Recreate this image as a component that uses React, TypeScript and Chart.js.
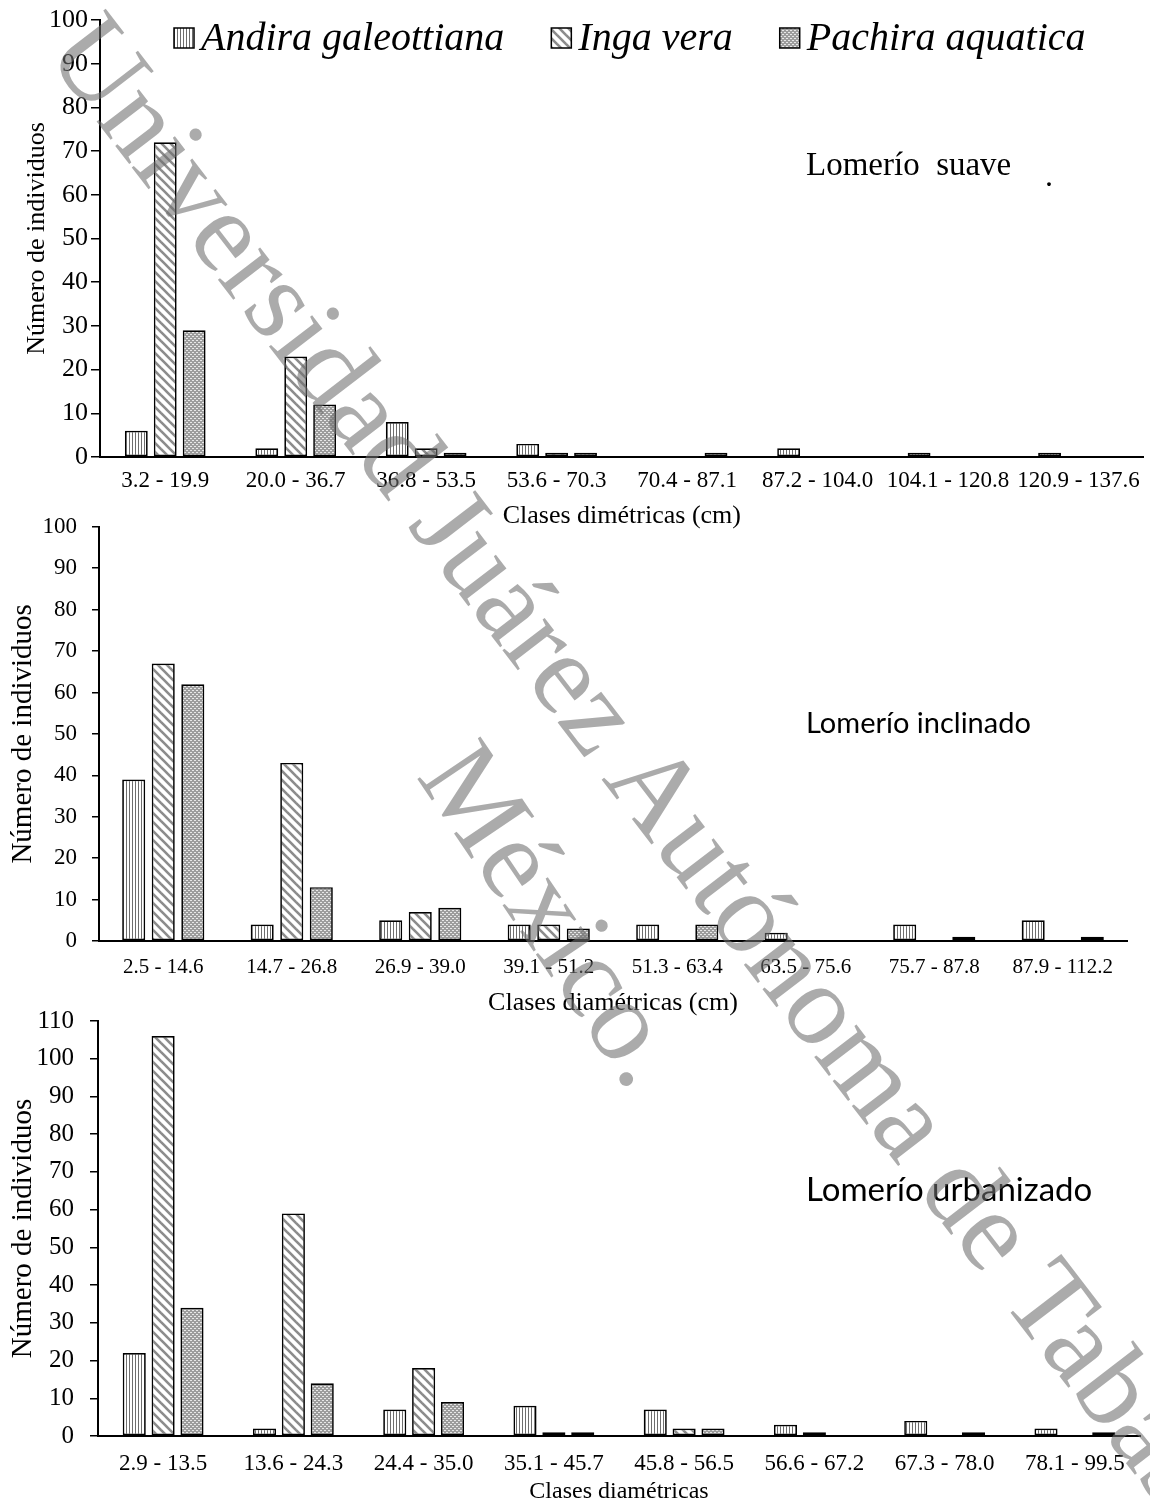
import React, { useEffect, useRef } from "react";
import { Chart, registerables } from "chart.js";

Chart.register(...registerables);

// ---------------- data ----------------
const speciesNames = ["Andira galeottiana", "Inga vera", "Pachira aquatica"];

const suaveClasses = ["3.2 - 19.9", "20.0 - 36.7", "36.8 - 53.5", "53.6 - 70.3", "70.4 - 87.1", "87.2 - 104.0", "104.1 - 120.8", "120.9 - 137.6"];
const suaveAndira = [6, 2, 8, 3, 0, 2, 1, 1];
const suaveInga = [72, 23, 2, 1, 0, 0, 0, 0];
const suavePachira = [29, 12, 1, 1, 1, 0, 0, 0];

const inclinadoClasses = ["2.5 - 14.6", "14.7 - 26.8", "26.9 - 39.0", "39.1 - 51.2", "51.3 - 63.4", "63.5 - 75.6", "75.7 - 87.8", "87.9 - 112.2"];
const inclinadoAndira = [39, 4, 5, 4, 4, 2, 4, 5];
const inclinadoInga = [67, 43, 7, 4, 0, 0, 0, 0];
const inclinadoPachira = [62, 13, 8, 3, 4, 0, 1, 1];

const urbanizadoClasses = ["2.9 - 13.5", "13.6 - 24.3", "24.4 - 35.0", "35.1 - 45.7", "45.8 - 56.5", "56.6 - 67.2", "67.3 - 78.0", "78.1 - 99.5"];
const urbanizadoAndira = [22, 2, 7, 8, 7, 3, 4, 2];
const urbanizadoInga = [106, 59, 18, 1, 2, 1, 0, 0];
const urbanizadoPachira = [34, 14, 9, 1, 2, 0, 1, 1];

const yTitleText = "Número de individuos";
const watermarkLine1 = "Universidad Juárez Autónoma de Tabasco.";
const watermarkLine2 = "México.";

// ---------------- patterns ----------------
function makePatterns(ctx: CanvasRenderingContext2D) {
  const v = document.createElement("canvas");
  v.width = 3; v.height = 3;
  const vc = v.getContext("2d")!;
  vc.fillStyle = "#ffffff"; vc.fillRect(0, 0, 3, 3);
  vc.fillStyle = "#6e6e6e"; vc.fillRect(0, 0, 1, 3);

  const d = document.createElement("canvas");
  d.width = 9; d.height = 9;
  const dc = d.getContext("2d")!;
  dc.fillStyle = "#ffffff"; dc.fillRect(0, 0, 9, 9);
  dc.strokeStyle = "#8c8c8c"; dc.lineWidth = 2.6;
  for (const o of [-9, 0, 9]) {
    dc.beginPath(); dc.moveTo(o - 2, -2); dc.lineTo(o + 11, 11); dc.stroke();
  }

  const p = document.createElement("canvas");
  p.width = 4; p.height = 4;
  const pc = p.getContext("2d")!;
  pc.fillStyle = "#9d9d9d"; pc.fillRect(0, 0, 4, 4);
  pc.fillStyle = "#e8e8e8"; pc.fillRect(0, 0, 2, 1); pc.fillRect(2, 2, 2, 1);

  return [
    ctx.createPattern(v, "repeat")!,
    ctx.createPattern(d, "repeat")!,
    ctx.createPattern(p, "repeat")!,
  ];
}

type Note = { text: string; x: number; y: number; font: string; baseline?: CanvasTextBaseline };

type Spec = {
  top: number; height: number;
  labels: string[]; series: number[][];
  yMax: number;
  padLeft: number; padTop: number; padRight: number;
  yWidth: number; xHeight: number;
  yTickSize: number; yTickLen: number; yTickPad: number;
  xTickSize: number; xTickPad: number;
  yTitleSize: number;
  xTitle: string; xTitleSize: number;
  catPct: number; barPct: number;
  notes: Note[];
  legend: boolean;
};

const overlayPlugin = {
  id: "overlay",
  afterDraw(chart: any, _args: any, opts: any) {
    const ctx: CanvasRenderingContext2D = chart.ctx;
    ctx.save();
    ctx.fillStyle = "#000";
    ctx.textAlign = "left";
    for (const n of opts.notes as Note[]) {
      ctx.font = n.font;
      ctx.textBaseline = n.baseline || "middle";
      ctx.fillText(n.text, n.x, n.y);
    }
    if (opts.legend) {
      const pats = opts.patterns;
      let x = 174;
      ctx.font = "italic 40px 'Liberation Serif'";
      ctx.textBaseline = "alphabetic";
      speciesNames.forEach((name, i) => {
        ctx.fillStyle = pats[i];
        ctx.fillRect(x, 28, 20, 20);
        ctx.strokeStyle = "#000"; ctx.lineWidth = 1.5;
        ctx.strokeRect(x, 28, 20, 20);
        ctx.fillStyle = "#000";
        ctx.fillText(name, x + 27, 50);
        x += 27 + ctx.measureText(name).width + 47;
      });
    }
    ctx.restore();
  },
};

function Panel({ spec }: { spec: Spec }) {
  const ref = useRef<HTMLCanvasElement>(null);
  useEffect(() => {
    const canvas = ref.current!;
    const ctx = canvas.getContext("2d")!;
    const patterns = makePatterns(ctx);
    const serif = "'Liberation Serif', 'Times New Roman', serif";
    const chart = new Chart(ctx, {
      type: "bar",
      data: {
        labels: spec.labels,
        datasets: spec.series.map((s, i) => ({
          label: speciesNames[i],
          data: s,
          backgroundColor: patterns[i] as any,
          borderColor: "#000",
          borderWidth: 1.7,
          borderSkipped: false,
          categoryPercentage: spec.catPct,
          barPercentage: spec.barPct,
        })),
      },
      options: {
        animation: false,
        responsive: false,
        maintainAspectRatio: false,
        devicePixelRatio: 1,
        layout: { padding: { left: spec.padLeft, top: spec.padTop, right: spec.padRight, bottom: 0 } },
        plugins: {
          legend: { display: false },
          tooltip: { enabled: false },
          overlay: { notes: spec.notes, legend: spec.legend, patterns } as any,
        } as any,
        scales: {
          x: {
            ticks: { font: { family: serif, size: spec.xTickSize }, color: "#000", padding: spec.xTickPad, maxRotation: 0, autoSkip: false },
            grid: { display: false, drawTicks: false },
            border: { color: "#000", width: 2 },
            title: { display: true, text: spec.xTitle, color: "#000", font: { family: serif, size: spec.xTitleSize }, padding: 0 },
            afterFit: (s: any) => { s.height = spec.xHeight; },
          },
          y: {
            min: 0,
            max: spec.yMax,
            ticks: { stepSize: 10, font: { family: serif, size: spec.yTickSize }, color: "#000", padding: spec.yTickPad },
            grid: { drawOnChartArea: false, drawTicks: true, tickLength: spec.yTickLen, color: "#000", lineWidth: 1.5 },
            border: { color: "#000", width: 2 },
            title: { display: true, text: yTitleText, color: "#000", font: { family: serif, size: spec.yTitleSize }, padding: 0 },
            afterFit: (s: any) => { s.width = spec.yWidth; },
          },
        },
      },
      plugins: [overlayPlugin as any],
    });
    return () => chart.destroy();
  }, [spec]);
  return (
    <canvas
      ref={ref}
      width={1150}
      height={spec.height}
      style={{ position: "absolute", left: 0, top: spec.top, width: 1150, height: spec.height }}
    />
  );
}

const sans = "'Lato', 'Liberation Sans', sans-serif";

const specs: Spec[] = [
  {
    top: 0, height: 532,
    labels: suaveClasses, series: [suaveAndira, suaveInga, suavePachira],
    yMax: 100,
    padLeft: 22, padTop: 20, padRight: 3,
    yWidth: 78, xHeight: 75,
    yTickSize: 26, yTickLen: 9, yTickPad: 3,
    xTickSize: 23, xTickPad: 10,
    yTitleSize: 26,
    xTitle: "Clases dimétricas (cm)", xTitleSize: 26,
    catPct: 0.665, barPct: 0.79,
    notes: [
      { text: "Lomerío  suave", x: 806, y: 166, font: "33px 'Liberation Serif'" },
      { text: ".", x: 1045, y: 186, font: "32px 'Liberation Serif'", baseline: "alphabetic" },
    ],
    legend: true,
  },
  {
    top: 498, height: 521,
    labels: inclinadoClasses, series: [inclinadoAndira, inclinadoInga, inclinadoPachira],
    yMax: 100,
    padLeft: 6, padTop: 20, padRight: 23,
    yWidth: 93, xHeight: 78,
    yTickSize: 23, yTickLen: 7, yTickPad: 15,
    xTickSize: 21, xTickPad: 14,
    yTitleSize: 29,
    xTitle: "Clases diamétricas (cm)", xTitleSize: 26,
    catPct: 0.69, barPct: 0.78,
    notes: [{ text: "Lomerío inclinado", x: 806, y: 724 - 498, font: "29px " + sans }],
    legend: false,
  },
  {
    top: 990, height: 516,
    labels: urbanizadoClasses, series: [urbanizadoAndira, urbanizadoInga, urbanizadoPachira],
    yMax: 110,
    padLeft: 6, padTop: 20, padRight: 10,
    yWidth: 92, xHeight: 70,
    yTickSize: 25, yTickLen: 8, yTickPad: 16,
    xTickSize: 23, xTickPad: 14,
    yTitleSize: 29,
    xTitle: "Clases diamétricas", xTitleSize: 24,
    catPct: 0.665, barPct: 0.8,
    notes: [{ text: "Lomerío urbanizado", x: 806, y: 1190 - 990, font: "33px " + sans }],
    legend: false,
  },
];

const wmStyle: React.CSSProperties = {
  position: "absolute",
  fontFamily: "'Liberation Serif', serif",
  fontSize: 116,
  lineHeight: "116px",
  whiteSpace: "pre",
  color: "rgba(110,110,110,0.58)",
  transformOrigin: "0 0",
  pointerEvents: "none",
  zIndex: 2,
};

export default function App() {
  return (
    <div style={{ position: "absolute", left: 0, top: 0, width: 1150, height: 1507, overflow: "hidden", background: "#fff" }}>
      {specs.map((s, i) => (
        <Panel key={i} spec={s} />
      ))}
      <div style={{ ...wmStyle, left: 121, top: -6, transform: "rotate(52.5deg)" }}>{watermarkLine1}</div>
      <div style={{ ...wmStyle, left: 496, top: 722, transform: "rotate(56deg)" }}>{watermarkLine2}</div>
    </div>
  );
}
